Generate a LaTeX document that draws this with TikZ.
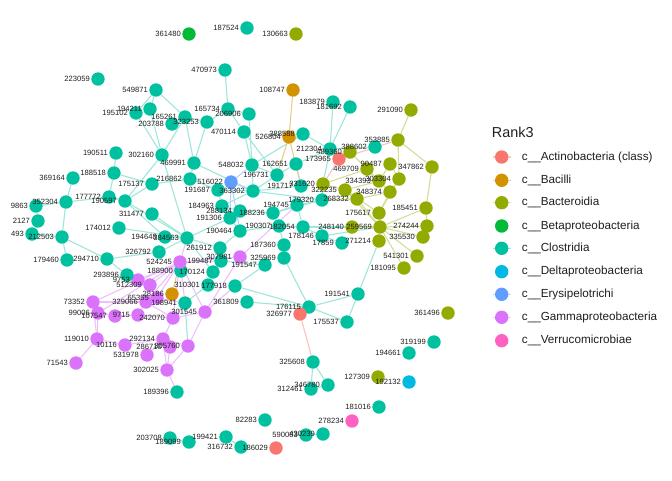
\documentclass[tikz,border=0pt]{standalone}
\usepackage{fontspec}
\setmainfont{Liberation Sans}
\definecolor{cAct}{HTML}{F8766D}
\definecolor{cBac}{HTML}{D39200}
\definecolor{cBct}{HTML}{93AA00}
\definecolor{cBet}{HTML}{00BA38}
\definecolor{cClo}{HTML}{00C19F}
\definecolor{cDel}{HTML}{00B9E3}
\definecolor{cEry}{HTML}{619CFF}
\definecolor{cGam}{HTML}{DB72FB}
\definecolor{cVer}{HTML}{FF61C3}
\pgfdeclarelayer{bg}
\pgfdeclarelayer{edges}
\pgfdeclarelayer{labels}
\pgfsetlayers{bg,edges,main,labels}
\tikzset{
  dot/.style={circle,draw=none,inner sep=0pt,minimum size=13.4pt},
  lbl/.style={inner sep=0pt,anchor=east,text=black!88,font=\fontsize{7.6}{8}\selectfont},
  ebase/.style={line width=1.1pt},
  et/.style={ebase,draw=cClo!38},
  ep/.style={ebase,draw=cGam!45},
  eo/.style={ebase,draw=cBct!40},
  er/.style={ebase,draw=cAct!45},
  eb/.style={ebase,draw=cBac!45},
  ey/.style={ebase,draw=cEry!45},
  legt/.style={inner sep=0pt,anchor=west,text=black!88,font=\fontsize{11.7}{13}\selectfont},
}
\newcommand\nd[4]{\node[dot,fill=#4] (n#1) at (#2,#3) {};
  \begin{pgfonlayer}{labels}\node[lbl] (l#1) at ([xshift=-8pt]n#1.center) {#1};\end{pgfonlayer}}
\newcommand\ed[3]{\draw[#1] (n#2) -- (n#3);}
\begin{document}
\begin{tikzpicture}[x=1pt,y=-1pt]
\useasboundingbox (0,0) rectangle (672,480);
\begin{pgfonlayer}{bg}\fill[white] (0,0) rectangle (672,480);\end{pgfonlayer}
% top
\nd{361480}{189}{34}{cBet}
\nd{187524}{247}{28}{cClo}
\nd{130663}{296}{34}{cBct}
\nd{470973}{225}{70}{cClo}
\nd{223059}{98}{79}{cClo}
\nd{108747}{293}{90}{cBac}
\nd{549871}{156}{90}{cClo}
\nd{194211}{150}{109}{cClo}
\nd{195102}{136}{113}{cClo}
\nd{165261}{185}{117}{cClo}
\nd{203788}{172}{124}{cClo}
\nd{323253}{207}{122}{cClo}
\nd{165734}{228}{109}{cClo}
\nd{206906}{249}{114}{cClo}
\nd{470114}{244}{132}{cClo}
\nd{183879}{333}{102}{cClo}
\nd{181692}{350}{107}{cClo}
\nd{291090}{411}{110}{cBct}
\nd{190511}{116}{153}{cClo}
\nd{302160}{162}{155}{cClo}
\nd{469991}{194}{163}{cClo}
\nd{526804}{289}{137}{cBac}
\nd{388588}{303}{134}{cClo}
\nd{353885}{398}{140}{cBct}
\nd{388602}{375}{147}{cClo}
\nd{212304}{330}{149}{cClo}
\nd{489360}{350}{152}{cBct}
\nd{173965}{339}{159}{cAct}
\nd{469709}{367}{169}{cBct}
\nd{90487}{390}{164}{cBct}
\nd{347862}{432}{167}{cBct}
\nd{303304}{399}{179}{cBct}
\nd{334393}{379}{181}{cBct}
\nd{331620}{323}{184}{cBct}
\nd{322235}{345}{190}{cBct}
\nd{268332}{357}{199}{cBct}
\nd{348374}{390}{192}{cBct}
\nd{175617}{379}{213}{cBct}
\nd{248140}{352}{227}{cBct}
\nd{259569}{380}{227}{cBct}
\nd{185451}{426}{208}{cBct}
\nd{274244}{427}{226}{cBct}
\nd{335530}{423}{237}{cBct}
\nd{271214}{379}{241}{cBct}
\nd{17859}{342}{243}{cClo}
\nd{541301}{417}{256}{cBct}
\nd{181095}{404}{268}{cBct}
\nd{361496}{448}{313}{cBct}
\nd{191541}{358}{294}{cClo}
\nd{176115}{309}{307}{cClo}
\nd{326977}{300}{314}{cAct}
\nd{175537}{347}{322}{cClo}
\nd{319199}{434}{342}{cClo}
\nd{194661}{409}{353}{cClo}
\nd{325608}{313}{362}{cClo}
\nd{346780}{328}{385}{cClo}
\nd{312461}{311}{389}{cClo}
\nd{127309}{378}{377}{cBct}
\nd{192132}{409}{382}{cDel}
\nd{181016}{379}{407}{cClo}
\nd{278234}{352}{421}{cVer}
\nd{82283}{265}{420}{cClo}
\nd{590083}{306}{435}{cClo}
\nd{430239}{323}{434}{cClo}
\nd{186029}{276}{448}{cAct}
\nd{316732}{241}{447}{cClo}
\nd{199421}{226}{437}{cClo}
\nd{189099}{189}{442}{cClo}
\nd{203708}{170}{438}{cClo}
\nd{189396}{177}{392}{cClo}
% core
\nd{548032}{252}{165}{cClo}
\nd{162651}{296}{164}{cClo}
\nd{196731}{277}{175}{cClo}
\nd{516022}{231}{182}{cEry}
\nd{191687}{218}{190}{cClo}
\nd{363302}{253}{191}{cClo}
\nd{191717}{301}{186}{cClo}
\nd{184963}{222}{206}{cClo}
\nd{288134}{240}{211}{cClo}
\nd{191306}{230}{218}{cClo}
\nd{188236}{273}{213}{cClo}
\nd{194745}{297}{205}{cClo}
\nd{179320}{322}{200}{cClo}
\nd{190307}{279}{226}{cClo}
\nd{182054}{303}{227}{cClo}
\nd{178146}{322}{236}{cClo}
\nd{187360}{284}{245}{cClo}
\nd{325969}{284}{258}{cClo}
\nd{191547}{265}{265}{cClo}
\nd{307981}{240}{257}{cGam}
\nd{190464}{240}{231}{cClo}
\nd{261912}{220}{248}{cClo}
\nd{199487}{221}{261}{cClo}
\nd{170124}{213}{272}{cClo}
\nd{384563}{187}{238}{cClo}
\nd{194648}{165}{237}{cClo}
\nd{326792}{159}{252}{cClo}
\nd{188900}{181}{271}{cClo}
\nd{524245}{180}{262}{cGam}
\nd{310301}{208}{285}{cClo}
\nd{177918}{235}{286}{cClo}
\nd{361809}{247}{302}{cClo}
\nd{198941}{185}{303}{cClo}
\nd{28186}{172}{294}{cBac}
\nd{301545}{205}{312}{cGam}
\nd{242070}{173}{318}{cGam}
\nd{9715}{138}{315}{cGam}
\nd{107547}{115}{316}{cGam}
\nd{99006}{98}{313}{cGam}
\nd{73352}{93}{302}{cGam}
\nd{329066}{146}{302}{cGam}
\nd{65355}{157}{298}{cGam}
\nd{9753}{138}{280}{cGam}
\nd{512309}{150}{285}{cGam}
\nd{293896}{127}{275}{cClo}
\nd{119010}{97}{339}{cGam}
\nd{10116}{125}{345}{cGam}
\nd{292134}{163}{339}{cGam}
\nd{531978}{147}{355}{cGam}
\nd{286710}{170}{347}{cGam}
\nd{305760}{188}{346}{cGam}
\nd{71543}{76}{363}{cGam}
\nd{302025}{167}{370}{cGam}
% left
\nd{188518}{114}{173}{cClo}
\nd{369164}{73}{178}{cClo}
\nd{175137}{152}{184}{cClo}
\nd{216862}{190}{179}{cClo}
\nd{352304}{66}{202}{cClo}
\nd{9863}{36}{206}{cClo}
\nd{2127}{38}{221}{cClo}
\nd{493}{32}{234}{cClo}
\nd{212503}{62}{237}{cClo}
\nd{177772}{109}{197}{cClo}
\nd{190597}{125}{201}{cClo}
\nd{311477}{152}{214}{cClo}
\nd{174012}{119}{228}{cClo}
\nd{179460}{67}{260}{cClo}
\nd{294710}{107}{259}{cClo}
\begin{pgfonlayer}{edges}
% teal
\ed{et}{549871}{194211}\ed{et}{549871}{195102}\ed{et}{549871}{165261}
\ed{et}{195102}{302160}\ed{et}{194211}{302160}\ed{et}{203788}{165261}
\ed{et}{165261}{323253}\ed{et}{165261}{302160}\ed{et}{165261}{469991}
\ed{et}{323253}{469991}\ed{et}{323253}{165734}\ed{et}{165734}{470973}
\ed{et}{165734}{206906}\ed{et}{165734}{470114}\ed{et}{206906}{548032}
\ed{et}{470114}{548032}\ed{et}{470114}{196731}\ed{et}{388588}{548032}
\ed{et}{388588}{212304}\ed{et}{183879}{212304}\ed{et}{181692}{212304}
\ed{et}{388602}{212304}\ed{et}{212304}{162651}\ed{et}{190511}{188518}
\ed{et}{302160}{190597}\ed{et}{302160}{384563}\ed{et}{469991}{216862}
\ed{et}{469991}{363302}\ed{et}{188518}{177772}\ed{et}{188518}{175137}
\ed{et}{369164}{352304}\ed{et}{352304}{177772}\ed{et}{352304}{9863}
\ed{et}{352304}{212503}\ed{et}{9863}{2127}\ed{et}{2127}{493}
\ed{et}{493}{212503}\ed{et}{212503}{179460}\ed{et}{212503}{294710}
\ed{et}{177772}{190597}\ed{et}{175137}{216862}\ed{et}{175137}{190597}
\ed{et}{190597}{194648}\ed{et}{190597}{384563}\ed{et}{311477}{384563}
\ed{et}{174012}{384563}\ed{et}{294710}{293896}\ed{et}{294710}{326792}
\ed{et}{216862}{191687}\ed{et}{191687}{363302}\ed{et}{191687}{184963}
\ed{et}{363302}{196731}\ed{et}{363302}{548032}\ed{et}{363302}{184963}
\ed{et}{363302}{191717}\ed{et}{363302}{179320}\ed{et}{196731}{162651}
\ed{et}{196731}{548032}\ed{et}{162651}{191717}\ed{et}{184963}{288134}
\ed{et}{184963}{191306}\ed{et}{191306}{190464}\ed{et}{191306}{384563}
\ed{et}{288134}{188236}\ed{et}{188236}{194745}\ed{et}{188236}{179320}
\ed{et}{188236}{190307}\ed{et}{194745}{179320}\ed{et}{194745}{182054}
\ed{et}{190307}{182054}\ed{et}{182054}{248140}\ed{et}{182054}{178146}
\ed{et}{178146}{259569}\ed{et}{178146}{17859}\ed{et}{190464}{261912}
\ed{et}{190464}{190307}\ed{et}{261912}{199487}\ed{et}{261912}{384563}
\ed{et}{187360}{190307}\ed{et}{187360}{325969}\ed{et}{199487}{191547}
\ed{et}{170124}{310301}\ed{et}{170124}{384563}\ed{et}{310301}{198941}
\ed{et}{191547}{177918}\ed{et}{177918}{176115}\ed{et}{361809}{176115}
\ed{et}{325969}{176115}\ed{et}{176115}{191541}\ed{et}{176115}{175537}
\ed{et}{191541}{175537}\ed{et}{191541}{271214}\ed{et}{325608}{346780}
\ed{et}{325608}{312461}\ed{et}{312461}{346780}\ed{et}{590083}{430239}
\ed{et}{189099}{203708}\ed{et}{199421}{316732}\ed{et}{384563}{326792}
\ed{et}{194648}{384563}\ed{et}{198941}{305760}\ed{et}{212304}{331620}
\ed{et}{331620}{179320}
% purple
\ed{ep}{524245}{9753}\ed{ep}{524245}{512309}\ed{ep}{524245}{329066}
\ed{ep}{524245}{65355}\ed{ep}{524245}{198941}\ed{ep}{524245}{242070}
\ed{ep}{524245}{301545}\ed{ep}{524245}{73352}\ed{ep}{524245}{99006}
\ed{ep}{524245}{307981}\ed{ep}{524245}{384563}\ed{ep}{524245}{199487}
\ed{ep}{307981}{194745}\ed{ep}{301545}{177918}\ed{ep}{301545}{307981}
\ed{ep}{73352}{329066}\ed{ep}{73352}{119010}\ed{ep}{119010}{71543}
\ed{ep}{119010}{99006}\ed{ep}{119010}{10116}\ed{ep}{99006}{107547}
\ed{ep}{107547}{9715}\ed{ep}{9715}{242070}\ed{ep}{9715}{329066}
\ed{ep}{242070}{292134}\ed{ep}{242070}{198941}\ed{ep}{242070}{301545}
\ed{ep}{292134}{305760}\ed{ep}{292134}{286710}\ed{ep}{292134}{302025}
\ed{ep}{531978}{292134}\ed{ep}{10116}{292134}\ed{ep}{305760}{301545}
\ed{ep}{305760}{302025}\ed{ep}{286710}{302025}\ed{ep}{302025}{189396}
\ed{ep}{512309}{293896}\ed{ep}{9753}{293896}\ed{ep}{65355}{198941}
\ed{ep}{329066}{242070}
% orange
\ed{eb}{108747}{526804}\ed{eb}{526804}{191717}\ed{eb}{28186}{524245}
\ed{eb}{526804}{196731}
% blue
\ed{ey}{516022}{363302}\ed{ey}{516022}{548032}\ed{ey}{516022}{190464}
\ed{ey}{516022}{191306}
% red
\ed{er}{173965}{353885}\ed{er}{326977}{325608}\ed{er}{173965}{331620}
% olive
\ed{eo}{291090}{353885}\ed{eo}{353885}{347862}\ed{eo}{353885}{303304}
\ed{eo}{489360}{469709}\ed{eo}{469709}{334393}\ed{eo}{469709}{331620}
\ed{eo}{90487}{303304}\ed{eo}{90487}{334393}\ed{eo}{334393}{322235}
\ed{eo}{334393}{348374}\ed{eo}{303304}{348374}\ed{eo}{331620}{322235}
\ed{eo}{322235}{268332}\ed{eo}{268332}{348374}\ed{eo}{179320}{268332}
\ed{eo}{348374}{175617}\ed{eo}{322235}{175617}\ed{eo}{303304}{175617}
\ed{eo}{175617}{259569}\ed{eo}{259569}{248140}\ed{eo}{259569}{185451}
\ed{eo}{259569}{274244}\ed{eo}{259569}{335530}\ed{eo}{259569}{541301}
\ed{eo}{259569}{181095}\ed{eo}{259569}{271214}\ed{eo}{185451}{347862}
\ed{eo}{185451}{274244}\ed{eo}{322235}{259569}\ed{eo}{268332}{259569}
\end{pgfonlayer}
% legend
\node[inner sep=0pt,anchor=west,text=black!88,font=\fontsize{14.4}{16}\selectfont] (legtitle) at (491.7,132.7) {Rank3};
\foreach \c/\t/\y/\ln [count=\i] in {cAct/c\_\_Actinobacteria (class)/157/1,cBac/c\_\_Bacilli/180.3/1,cBct/c\_\_Bacteroidia/202.7/1,cBet/c\_\_Betaproteobacteria/226/0,cClo/c\_\_Clostridia/248.3/1,cDel/c\_\_Deltaproteobacteria/271.7/0,cEry/c\_\_Erysipelotrichi/294.3/1,cGam/c\_\_Gammaproteobacteria/317.3/1,cVer/c\_\_Verrucomicrobiae/340.7/0}{
  \ifnum\ln=1 \draw[ebase,draw=\c!40] (492.5,\y) -- (511,\y);\fi
  \node[dot,fill=\c] (key\i) at (501.7,\y) {};
  \node[legt] (keytext\i) at (521.7,\y) {\t};
}
\end{tikzpicture}
\end{document}
